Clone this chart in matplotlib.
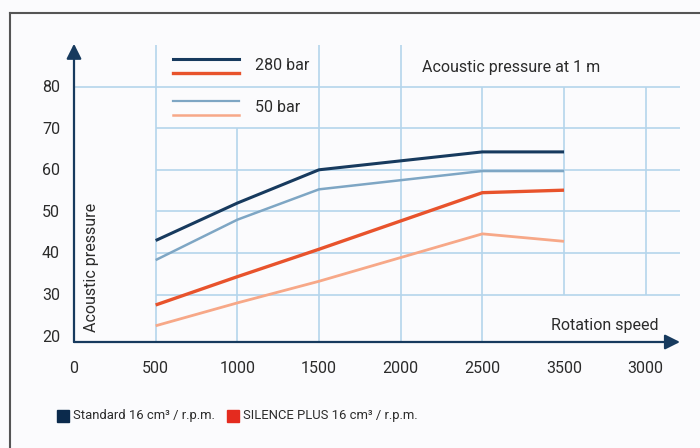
import matplotlib
matplotlib.use("Agg")
import matplotlib.pyplot as plt
from matplotlib.lines import Line2D
from matplotlib.patches import Rectangle

# ---------------- data ----------------
tick_labels = ['0', '500', '1000', '1500', '2000', '2500', '3500', '3000']
y_ticks = [20, 30, 40, 50, 60, 70, 80]
speeds = ['500', '1000', '1500', '2500', '3500']
standard_280 = [43.0, 52.0, 60.0, 64.3, 64.3]
standard_50 = [38.3, 48.0, 55.3, 59.7, 59.7]
silence_280 = [27.5, 34.3, 40.9, 54.5, 55.1]
silence_50 = [22.5, 28.0, 33.2, 44.6, 42.8]

# ---------------- style ----------------
navy = '#173a5e'
lightblue = '#7ea6c4'
orange = '#e8532c'
salmon = '#f7a888'
grid_c = '#b5d5ec'
text_c = '#2b2b2b'
bg = '#fbfbfd'
fs = 11.5

plt.rcParams['font.family'] = ['Roboto', 'DejaVu Sans']

fig = plt.figure(figsize=(7, 4.48), dpi=100, facecolor=bg)
ax = fig.add_axes([74 / 700, 1 - 342 / 448, (680 - 74) / 700, (342 - 45) / 448])
ax.set_facecolor(bg)
ymin, ymax = 18.6, 90
xmax = 7.42
ax.set_xlim(0, xmax)
ax.set_ylim(ymin, ymax)
for s in ax.spines.values():
    s.set_visible(False)
ax.set_xticks([])
ax.set_yticks([])

# grid (irregular extents as in the original)
ax.hlines(80, 0, xmax, color=grid_c, lw=1.2)
ax.hlines([30, 40, 50, 60, 70], 1, xmax, color=grid_c, lw=1.2)
vtops = {1: ymax, 2: 70, 3: ymax, 4: ymax, 5: 80, 6: 80, 7: 80}
vbots = {1: ymin, 2: ymin, 3: ymin, 4: ymin, 5: ymin, 6: 30, 7: 30}
for p in vtops:
    ax.vlines(p, vbots[p], vtops[p], color=grid_c, lw=1.2)

# axes with arrows
ax.annotate('', xy=(0, ymax + 0.3), xytext=(0, ymin), xycoords='data',
            arrowprops=dict(arrowstyle='-|>,head_length=0.9,head_width=0.45',
                            color=navy, lw=1.6, shrinkA=0, shrinkB=0),
            annotation_clip=False)
ax.annotate('', xy=(xmax, ymin), xytext=(0, ymin), xycoords='data',
            arrowprops=dict(arrowstyle='-|>,head_length=0.9,head_width=0.45',
                            color=navy, lw=1.6, shrinkA=0, shrinkB=0),
            annotation_clip=False)

# series
xs = [tick_labels.index(s) for s in speeds]
ax.plot(xs, standard_280, color=navy, lw=2.2, solid_capstyle='butt')
ax.plot(xs, standard_50, color=lightblue, lw=1.8, solid_capstyle='butt')
ax.plot(xs, silence_280, color=orange, lw=2.4, solid_capstyle='butt')
ax.plot(xs, silence_50, color=salmon, lw=2.0, solid_capstyle='butt')

# tick labels
for i, lab in enumerate(tick_labels):
    ax.text(i, -0.09, lab, transform=ax.get_xaxis_transform(), ha='center',
            va='center', fontsize=fs, color=text_c)
for v in y_ticks:
    ax.text(-0.038, v - 0.2, str(v), transform=ax.get_yaxis_transform(),
            ha='center', va='center', fontsize=fs, color=text_c)

ax.text(0.029, 0.25, 'Acoustic pressure', transform=ax.transAxes, rotation=90,
        ha='center', va='center', fontsize=fs, color=text_c)
ax.text(0.965, 0.055, 'Rotation speed', transform=ax.transAxes,
        ha='right', va='center', fontsize=fs, color=text_c)
ax.text(0.575, 0.925, 'Acoustic pressure at 1 m', transform=ax.transAxes,
        ha='left', va='center', fontsize=fs, color=text_c)

# legend for pressures (drawn inside the grid)
lx0, lx1 = (173 - 74) / 606, (239 - 74) / 606
def ly(py):
    return (342 - py) / 297
ax.add_line(Line2D([lx0, lx1], [ly(59), ly(59)], transform=ax.transAxes, color=navy, lw=2.2))
ax.add_line(Line2D([lx0, lx1], [ly(73), ly(73)], transform=ax.transAxes, color=orange, lw=2.4))
ax.add_line(Line2D([lx0, lx1], [ly(101), ly(101)], transform=ax.transAxes, color=lightblue, lw=1.6))
ax.add_line(Line2D([lx0, lx1], [ly(115), ly(115)], transform=ax.transAxes, color=salmon, lw=1.8))
ax.text((255 - 74) / 606, ly(66), '280 bar', transform=ax.transAxes,
        ha='left', va='center', fontsize=fs, color=text_c)
ax.text((255 - 74) / 606, ly(108), '50 bar', transform=ax.transAxes,
        ha='left', va='center', fontsize=fs, color=text_c)

# bottom legend
fig.patches.append(Rectangle((57 / 700, 1 - 422 / 448), 12 / 700, 12 / 448,
                             transform=fig.transFigure, color='#0b2a4c'))
fig.text(73 / 700, 1 - 415 / 448, 'Standard 16 cm³ / r.p.m.', ha='left',
         va='center', fontsize=9.4, color=text_c)
fig.patches.append(Rectangle((227 / 700, 1 - 422 / 448), 12 / 700, 12 / 448,
                             transform=fig.transFigure, color='#e42b1f'))
fig.text(243 / 700, 1 - 415 / 448, 'SILENCE PLUS 16 cm³ / r.p.m.', ha='left',
         va='center', fontsize=9.4, color=text_c)

# outer frame (top and left only)
fig.add_artist(Line2D([10 / 700, 1], [1 - 13 / 448, 1 - 13 / 448],
                      transform=fig.transFigure, color='#555555', lw=1.5))
fig.add_artist(Line2D([10 / 700, 10 / 700], [0, 1 - 13 / 448],
                      transform=fig.transFigure, color='#555555', lw=1.5))

fig.savefig('out.png', dpi=100, facecolor=bg)
